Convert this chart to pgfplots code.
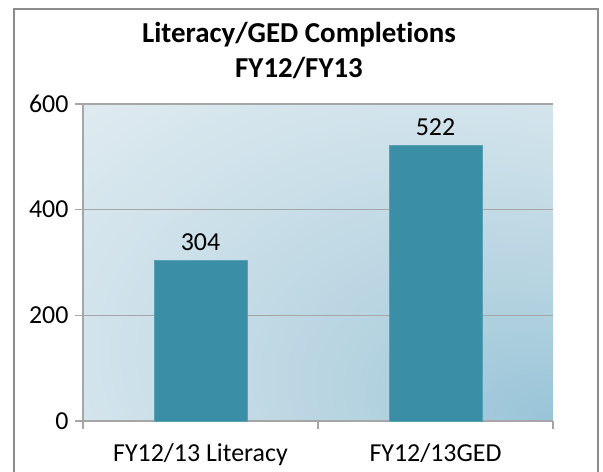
\documentclass[border=0pt]{standalone}
\usepackage{pgfplots}
\pgfplotsset{compat=1.18}
\usepackage{fontspec}
\setmainfont{Carlito}[Ligatures=NoCommon]
\definecolor{barc}{HTML}{3A8FA6}
\definecolor{bgA}{HTML}{E0EBF1}
\definecolor{bgN}{HTML}{CCE0E9}
\definecolor{bgM}{HTML}{B5D3E0}
\definecolor{bgB}{HTML}{98C4D8}
\definecolor{gridc}{HTML}{A6A6A6}
\definecolor{framec}{HTML}{8C8C8C}
\pgfdeclareradialshading{bgrad}{\pgfpoint{25bp}{-25bp}}{%
  color(0bp)=(bgB); color(16bp)=(bgM); color(33bp)=(bgN); color(50bp)=(bgA); color(80bp)=(bgA)}
\begin{document}
\begin{tikzpicture}[x=1bp,y=1bp]
\useasboundingbox (0,0) rectangle (603,472);
\fill[white] (0,0) rectangle (603,472);
\draw[framec,line width=1.5bp] (14,-10) -- (14,463) -- (598,463) -- (598,-10);
\node[align=center,font=\fontsize{29}{35}\selectfont\bfseries] at (299,421.5) {Literacy/GED Completions\\FY12/FY13};
\begin{axis}[
  at={(83bp,51bp)}, anchor=south west,
  scale only axis, width=470bp, height=317bp,
  xmin=-0.5, xmax=1.5, ymin=0, ymax=600,
  axis x line*=bottom, axis y line*=left,
  axis line style={gridc,line width=1.2bp,-},
  xtick={-0.5,0.5,1.5},
  x tick label as interval,
  xticklabels={FY12/13 Literacy,FY12/13GED},
  ytick={0,200,400,600},
  ymajorgrids, grid style={gridc,line width=1.5bp},
  tick align=outside, major tick length=8bp,
  tick style={gridc,line width=1.2bp},
  tick label style={font=\fontsize{26}{30}\selectfont, black},
  /pgf/number format/assume math mode=true,
  yticklabel style={xshift=-3bp},
  xticklabel style={yshift=-11bp},
  axis background/.style={shade,shading=bgrad},
  nodes near coords,
  every node near coord/.append style={font=\fontsize{26}{30}\selectfont,black,yshift=6bp},
  bar width=93bp,
  clip=false,
]
\addplot[ybar, fill=barc, draw=barc!85!white] coordinates {(0,304) (1,522)};
\end{axis}
\end{tikzpicture}
\end{document}
